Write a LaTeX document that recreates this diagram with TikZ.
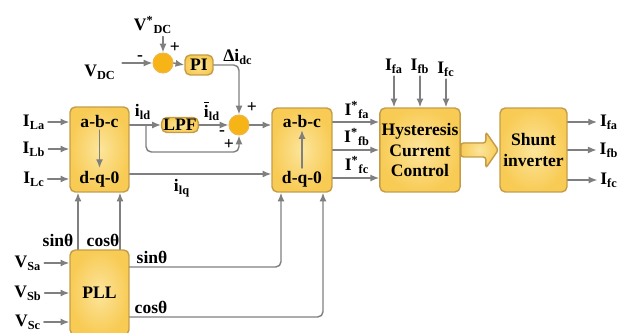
\documentclass[tikz,border=0pt]{standalone}
\usepackage{fontspec}
\setmainfont{Liberation Serif}
\usepackage{tikz}
\usetikzlibrary{arrows.meta,calc}
\definecolor{boxin}{HTML}{FCE59C}
\definecolor{boxout}{HTML}{F8CB55}
\definecolor{boxline}{HTML}{C49C48}
\definecolor{sumfill}{HTML}{F6B416}
\definecolor{sumline}{HTML}{EFB64A}
\definecolor{wire}{HTML}{7F7F7F}
\newcommand{\supsub}[2]{\textsuperscript{#1}\textsubscript{#2}}

\begin{document}
\begin{tikzpicture}[x=0.02cm, y=-0.02cm, line cap=round,
  font=\fontsize{10}{11.5}\selectfont\bfseries, inner sep=1.5pt,
  blk/.style={draw=boxline, line width=0.8pt, rounded corners=3pt,
    inner color=boxin, outer color=boxout, inner sep=1pt},
  sumc/.style={circle, draw=sumline, line width=0.6pt, fill=sumfill,
    minimum size=0.4cm, inner sep=0pt},
  sig/.style={draw=wire, line width=0.8pt, -{Latex[length=5pt,width=4pt]}},
  sgn/.style={inner sep=0pt}]
  \useasboundingbox (0,0) rectangle (632,333);
  \clip (0,0) rectangle (632,333);

  % dc-link voltage loop
  \node (vref) at (153,25) {V\supsub{*}{DC}};
  \node (vdc) at (100,72) {V\textsubscript{DC}};
  \node[sumc] (sum1) at (163,63) {};
  \node[blk, minimum width=0.56cm, minimum height=0.4cm] (pi) at (199,65) {PI};
  \node (dic) at (238,57) {Δi\textsubscript{dc}};
  \node[sgn] (s1p) at (175,48) {+};
  \node[sgn] (s1m) at (140,58) {-};
  \draw[sig] (sum1 |- vref.south) -- (sum1.north);
  \draw[sig] ([xshift=2pt]vdc.east |- sum1) -- (sum1.west);
  \draw[sig] (sum1.east) -- (pi.west);

  % abc -> dq0 of load currents
  \node[blk, minimum width=1.18cm, minimum height=1.7cm] (abcL) at (99.5,149.5) {};
  \node (abcLt) at (99.5,121) {a-b-c};
  \node (abcLb) at (99.5,179) {d-q-0};
  \draw[sig] (abcLt) -- (abcLb);
  \node (ila) at (34,122) {I\textsubscript{La}};
  \node (ilb) at (34,149) {I\textsubscript{Lb}};
  \node (ilc) at (34,179) {I\textsubscript{Lc}};
  \foreach \n in {ila,ilb,ilc}
    \draw[sig] (\n.east) -- (\n -| abcL.west);

  % filter and sum
  \node[blk, minimum width=0.6cm, minimum height=0.3cm] (lpf) at (180,125) {LPF};
  \node[sumc] (sum2) at (239,125) {};
  \node (ild) at (143,112) {i\textsubscript{ld}};
  \node (ildf) at (212,111) {$\overline{\mbox{i}}$\textsubscript{ld}};
  \node[sgn] (s2p) at (252,108) {+};
  \node[sgn] (s2m) at (222,133) {-};
  \node[sgn] (s2q) at (229,145) {+};
  \coordinate (br) at (146,125);
  \coordinate (brc) at (239,152);
  \draw[sig] (abcL.east |- lpf) -- (lpf.west);
  \draw[sig] (lpf.east) -- (sum2.west);
  \draw[sig, rounded corners=3pt] (br) |- (brc) -- (sum2.south);
  \draw[sig, rounded corners=3pt] (pi.east) -| (sum2.north);

  % dq0 -> abc of reference currents
  \node[blk, minimum width=1.2cm, minimum height=1.68cm] (abcR) at (302,150) {};
  \node (abcRt) at (302,121) {a-b-c};
  \node (abcRb) at (302,179) {d-q-0};
  \draw[sig] (abcRb) -- (abcRt);
  \draw[sig] (sum2.east) -- (sum2 -| abcR.west);
  \draw[sig] ([yshift=-0.49cm]abcL.east) coordinate (iq) -- (iq -| abcR.west);
  \node (ilq) at (182,188) {i\textsubscript{lq}};

  % hysteresis control
  \node[blk, minimum width=1.52cm, minimum height=1.68cm, align=center]
    (hcc) at (420,150) {Hysteresis\\Current\\Control};
  \node (rfa) at (357,110) {I\supsub{*}{fa}};
  \node (rfb) at (357,137) {I\supsub{*}{fb}};
  \node (rfc) at (357,165) {I\supsub{*}{fc}};
  \draw[sig] ([yshift=0.56cm]abcR.east) -- ([yshift=0.56cm]hcc.west);
  \draw[sig] (abcR.east) -- (hcc.west);
  \draw[sig] ([yshift=-0.56cm]abcR.east) -- ([yshift=-0.56cm]hcc.west);
  \node (mfa) at (394,66) {I\textsubscript{fa}};
  \node (mfb) at (420,66) {I\textsubscript{fb}};
  \node (mfc) at (446,69) {I\textsubscript{fc}};
  \foreach \n in {mfa,mfb,mfc}
    \draw[sig] (\n.south) -- (\n |- hcc.north);

  % shunt inverter
  \node[blk, minimum width=1.34cm, minimum height=1.68cm, align=center]
    (inv) at (533.5,150) {Shunt\\inverter};
  \filldraw[draw=boxline, line width=0.8pt, inner color=boxin, outer color=boxout,
    rounded corners=1.5pt]
    ($(hcc.east)+(0,-7)$) -- ++(25,0) -- ++(0,-11) -- ($(inv.west)+(-1,0)$)
    -- ($(hcc.east)+(25,18)$) -- ++(0,-11) -- ($(hcc.east)+(0,7)$) -- cycle;
  \node (ofa) at (609,122) {I\textsubscript{fa}};
  \node (ofb) at (609,150) {I\textsubscript{fb}};
  \node (ofc) at (609,180) {I\textsubscript{fc}};
  \foreach \n in {ofa,ofb,ofc}
    \draw[sig] (\n -| inv.east) -- (\n.west);

  % PLL
  \node[blk, minimum width=1.18cm, minimum height=1.7cm] (pll) at (99.5,292.5) {PLL};
  \node (vsa) at (28,263) {V\textsubscript{Sa}};
  \node (vsb) at (28,293) {V\textsubscript{Sb}};
  \node (vsc) at (28,322) {V\textsubscript{Sc}};
  \foreach \n in {vsa,vsb,vsc}
    \draw[sig] (\n.east) -- (\n -| pll.west);
  \draw[sig] ([xshift=-0.43cm]pll.north) -- ([xshift=-0.43cm]abcL.south);
  \draw[sig] ([xshift=0.41cm]pll.north) -- ([xshift=0.41cm]abcL.south);
  \node (sinl) at (58,240) {sinθ};
  \node (cosl) at (103,240) {cosθ};
  \draw[sig, rounded corners=3pt] ([yshift=0.51cm]pll.east) -| ([xshift=-0.42cm]abcR.south);
  \draw[sig, rounded corners=3pt] ([yshift=-0.49cm]pll.east) -| ([xshift=0.42cm]abcR.south);
  \node (sinr) at (152,257) {sinθ};
  \node (cosr) at (151,307) {cosθ};
\end{tikzpicture}
\end{document}
